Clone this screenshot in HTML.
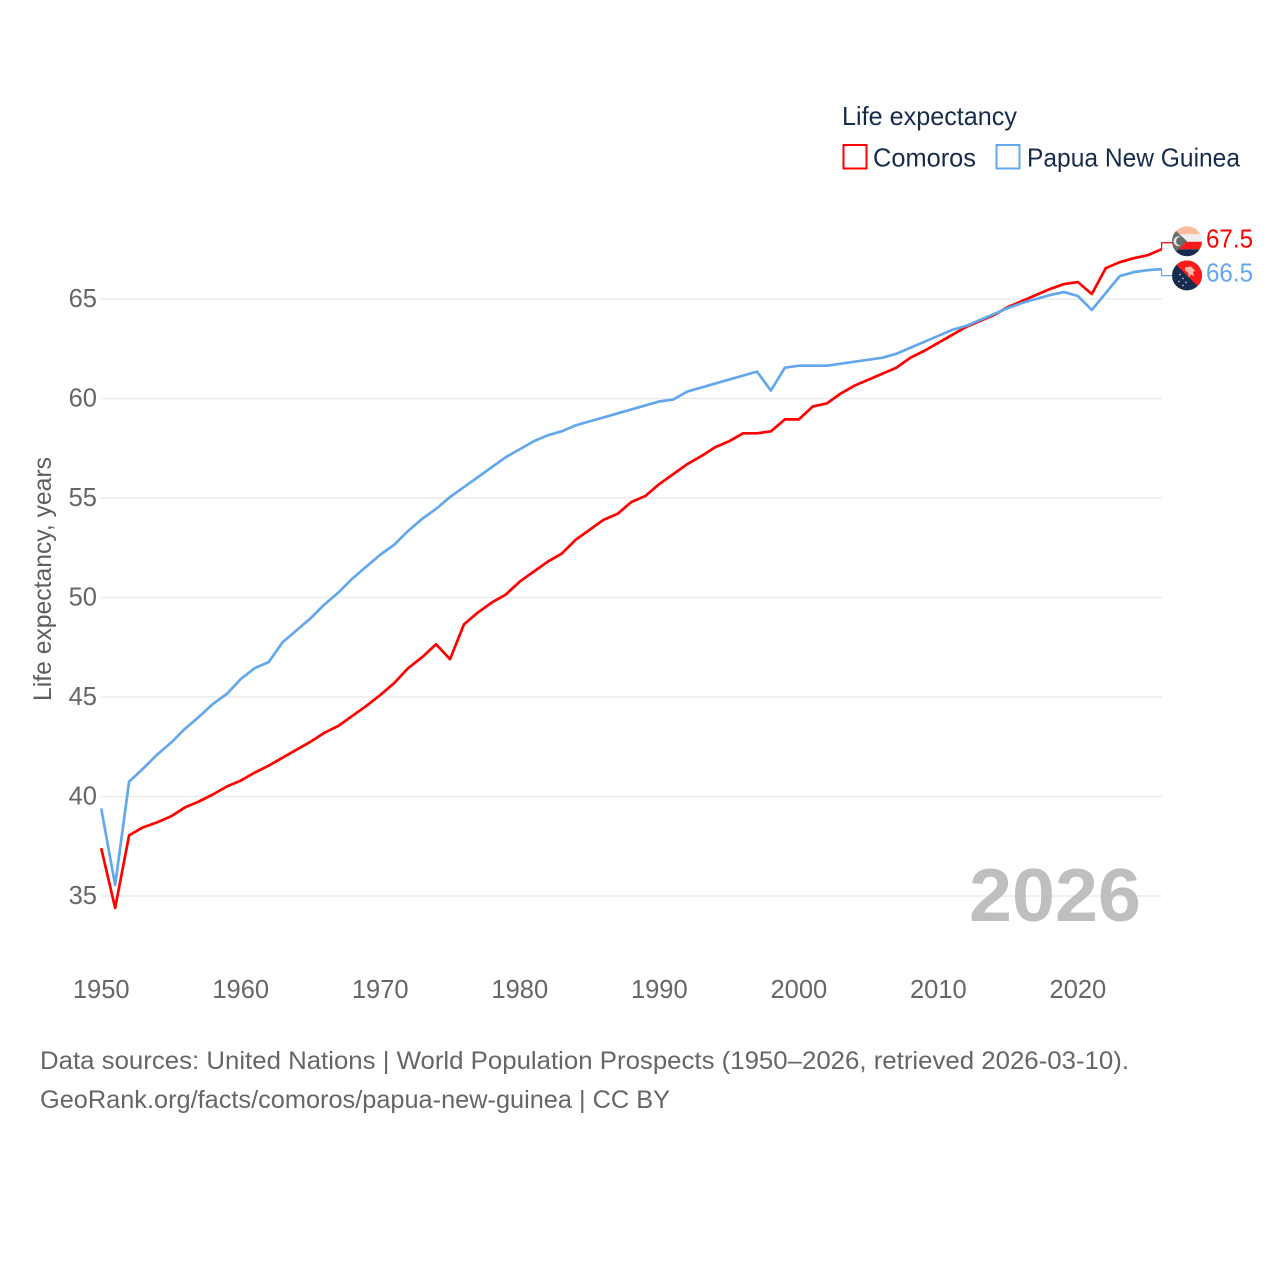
<!DOCTYPE html>
<html lang="en">
<head>
<meta charset="utf-8">
<title>Life expectancy: Comoros and Papua New Guinea</title>
<style>
html,body{margin:0;padding:0;background:#fff;width:1280px;height:1280px;overflow:hidden}
svg{display:block}
text{font-family:"Liberation Sans",Arial,sans-serif}
</style>
</head>
<body>
<svg id="chart" xmlns="http://www.w3.org/2000/svg" width="1280" height="1280" viewBox="0 0 1280 1280">
  <defs>
    <clipPath id="flag-clip-a"><circle cx="0" cy="0" r="15"></circle></clipPath>
  </defs>
  <g id="grid"></g>
  <g id="ytick"></g>
  <g id="xtick"></g>
  <text transform="translate(51,701) rotate(-90)" font-size="25" fill="#5f5f5f" textLength="244" lengthAdjust="spacingAndGlyphs">Life expectancy, years</text>
  <g>
    <text x="842" y="125" font-size="26" fill="#172c4d" textLength="175" lengthAdjust="spacingAndGlyphs">Life expectancy</text>
    <g>
      <rect x="843.5" y="145" width="23" height="23.5" fill="#fff" stroke="#ff0000" stroke-width="2"></rect>
      <text x="873" y="166.5" font-size="26" fill="#172c4d" textLength="103" lengthAdjust="spacingAndGlyphs">Comoros</text>
    </g>
    <g>
      <rect x="996.5" y="145" width="23" height="23.5" fill="#fff" stroke="#64a8ec" stroke-width="2"></rect>
      <text x="1027" y="166.5" font-size="26" fill="#172c4d" textLength="213" lengthAdjust="spacingAndGlyphs">Papua New Guinea</text>
    </g>
  </g>
  <text x="969" y="921" font-size="75" font-weight="700" fill="#bfbfbf" textLength="172" lengthAdjust="spacingAndGlyphs">2026</text>
  <g id="series"></g>
  <g id="flagA" clip-path="url(#flag-clip-a)">
    <rect x="-15" y="-15" width="30" height="8" fill="#fdbb9f"></rect>
    <rect x="-15" y="-7" width="30" height="7.5" fill="#eeeeee"></rect>
    <rect x="-15" y="0.5" width="30" height="7.5" fill="#ff1a1a"></rect>
    <rect x="-15" y="8" width="30" height="8" fill="#172c4d"></rect>
    <polygon points="-16,-15 0,0 -16,15" fill="#6b6b6b"></polygon>
    <circle cx="-8.5" cy="0" r="5" fill="#e8e8e8"></circle>
    <circle cx="-6.5" cy="0" r="4.4" fill="#6b6b6b"></circle>
  </g>
  <g id="flagB" clip-path="url(#flag-clip-a)">
    <rect x="-15" y="-15" width="30" height="30" fill="#172c4d"></rect>
    <polygon points="-15,-15 15,-15 15,15" fill="#ff1a1a"></polygon>
    <path d="M-2,-8 L4,-9 L8,-5 L6,-3 L7,1 L4,-1 L2,2 L1,-3 L-2,-5 Z" fill="#fbb9a8"></path>
    <circle cx="-7" cy="-1" r="0.8" fill="#c9d0dc"></circle>
    <circle cx="-4" cy="3" r="0.8" fill="#c9d0dc"></circle>
    <circle cx="-8" cy="6" r="0.8" fill="#c9d0dc"></circle>
    <circle cx="-1" cy="7" r="0.8" fill="#c9d0dc"></circle>
    <circle cx="-4" cy="10" r="0.8" fill="#c9d0dc"></circle>
  </g>
  <text id="valA" x="1206" font-size="25.5" fill="#ff0000" textLength="47" lengthAdjust="spacingAndGlyphs"></text>
  <text id="valB" x="1206" font-size="25.5" fill="#64a8ec" textLength="47" lengthAdjust="spacingAndGlyphs"></text>
  <g>
    <text x="40" y="1069" font-size="25" fill="#666666" textLength="1089" lengthAdjust="spacingAndGlyphs">Data sources: United Nations | World Population Prospects (1950–2026, retrieved 2026-03-10).</text>
    <text x="40" y="1108" font-size="25" fill="#666666" textLength="630" lengthAdjust="spacingAndGlyphs">GeoRank.org/facts/comoros/papua-new-guinea | CC BY</text>
  </g>
</svg>
<script>
const years = [1950,1951,1952,1953,1954,1955,1956,1957,1958,1959,1960,1961,1962,1963,1964,1965,1966,1967,1968,1969,1970,1971,1972,1973,1974,1975,1976,1977,1978,1979,1980,1981,1982,1983,1984,1985,1986,1987,1988,1989,1990,1991,1992,1993,1994,1995,1996,1997,1998,1999,2000,2001,2002,2003,2004,2005,2006,2007,2008,2009,2010,2011,2012,2013,2014,2015,2016,2017,2018,2019,2020,2021,2022,2023,2024,2025,2026];
const comorosValues = [37.4,34.4,38.05,38.45,38.7,39.0,39.45,39.75,40.1,40.5,40.8,41.2,41.55,41.95,42.35,42.75,43.2,43.55,44.05,44.55,45.1,45.7,46.45,47.0,47.65,46.9,48.65,49.25,49.75,50.15,50.8,51.3,51.8,52.2,52.9,53.4,53.9,54.2,54.8,55.1,55.7,56.2,56.7,57.1,57.55,57.85,58.25,58.25,58.35,58.95,58.95,59.6,59.75,60.25,60.65,60.95,61.25,61.55,62.05,62.4,62.8,63.2,63.6,63.9,64.2,64.6,64.9,65.2,65.5,65.75,65.85,65.25,66.55,66.85,67.05,67.2,67.5];
const pngValues = [39.4,35.55,40.75,41.4,42.1,42.7,43.4,44.0,44.65,45.15,45.9,46.45,46.75,47.75,48.35,48.95,49.65,50.25,50.95,51.55,52.15,52.65,53.35,53.95,54.45,55.05,55.55,56.05,56.55,57.05,57.45,57.85,58.15,58.35,58.65,58.85,59.05,59.25,59.45,59.65,59.85,59.95,60.35,60.55,60.75,60.95,61.15,61.35,60.4,61.55,61.65,61.65,61.65,61.75,61.85,61.95,62.05,62.25,62.55,62.85,63.15,63.45,63.65,63.95,64.25,64.55,64.8,65.0,65.2,65.35,65.15,64.45,65.3,66.15,66.35,66.45,66.5];
const yTickValues = [35,40,45,50,55,60,65];
const xTickValues = [1950,1960,1970,1980,1990,2000,2010,2020];

const SVGNS = 'http://www.w3.org/2000/svg';
function x(year){ return 101.2 + (year - 1950) * (1161.6 - 101.2) / 76; }
function y(value){ return 299 + (65 - value) * (896 - 299) / 30; }
function make(tag, attrs, parent){
  const el = document.createElementNS(SVGNS, tag);
  for (const k in attrs) el.setAttribute(k, attrs[k]);
  parent.appendChild(el);
  return el;
}

const gridG = document.getElementById('grid');
const yTickG = document.getElementById('ytick');
const xTickG = document.getElementById('xtick');
const seriesG = document.getElementById('series');

yTickValues.forEach(function(v){
  const line = make('line', {x1:101, x2:1162, y1:y(v), y2:y(v), stroke:'#e8e8e8', 'stroke-width':1.3}, gridG);
  
  
  const t = make('text', {x:97, y:y(v)+8, 'text-anchor':'end', 'font-size':25.5, fill:'#666666'}, yTickG);
  t.textContent = String(v);
  
  
});

xTickValues.forEach(function(v){
  const t = make('text', {x:x(v), y:998, 'text-anchor':'middle', 'font-size':25.5, fill:'#666666'}, xTickG);
  t.textContent = String(v);
  
  
});

function pathFor(values){
  return values.map(function(v,i){ return (i ? 'L' : 'M') + x(years[i]).toFixed(2) + ' ' + y(v).toFixed(2); }).join(' ');
}

const lastA = comorosValues[comorosValues.length - 1];
const lastB = pngValues[pngValues.length - 1];
const endX = x(years[years.length - 1]);
const flagAY = y(lastA) - 8;
const flagBY = y(lastB) + 6.3;

const lineA = make('path', {d:pathFor(comorosValues), fill:'none', stroke:'#ff0000', 'stroke-width':2.7, 'stroke-linejoin':'round'}, seriesG);


const lineB = make('path', {d:pathFor(pngValues), fill:'none', stroke:'#64a8ec', 'stroke-width':2.7, 'stroke-linejoin':'round'}, seriesG);



const connA = make('path', {d:'M'+endX+' '+y(lastA)+' V'+(y(lastA)-6.5)+' H1172', fill:'none', stroke:'#ff0000', 'stroke-width':1.2}, seriesG);


const connB = make('path', {d:'M'+endX+' '+y(lastB)+' V'+(y(lastB)+6.5)+' H1172', fill:'none', stroke:'#64a8ec', 'stroke-width':1.2}, seriesG);



document.getElementById('flagA').setAttribute('transform', 'translate(1187,' + flagAY + ')');
document.getElementById('flagB').setAttribute('transform', 'translate(1187,' + flagBY + ')');
const valA = document.getElementById('valA');
valA.setAttribute('y', flagAY + 6);
valA.textContent = lastA.toFixed(1);
const valB = document.getElementById('valB');
valB.setAttribute('y', flagBY + 6);
valB.textContent = lastB.toFixed(1);
</script>
</body>
</html>
